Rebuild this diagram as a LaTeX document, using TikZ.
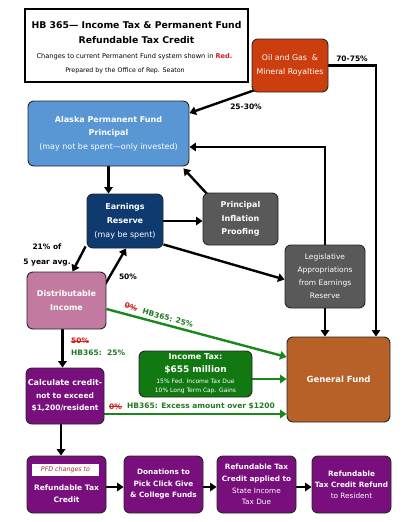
\documentclass[tikz,border=0pt]{standalone}
\usepackage{fontspec}
\setmainfont{DejaVu Sans}
\usetikzlibrary{arrows.meta}
\pgfdeclarelayer{back}
\pgfdeclarelayer{bg}
\pgfsetlayers{back,bg,main}
\newcommand\fsz[2]{\fontsize{#1}{#2}\selectfont}
\newcommand\strk[1]{\leavevmode\setbox0=\hbox{#1}\rlap{\raisebox{0.32em}{\rule{\wd0}{0.7pt}}}\box0}
\definecolor{oilc}{RGB}{205,62,15}
\definecolor{apfc}{RGB}{88,150,212}
\definecolor{erc}{RGB}{14,58,112}
\definecolor{grayc}{RGB}{89,89,89}
\definecolor{dic}{RGB}{194,122,160}
\definecolor{gfc}{RGB}{183,96,40}
\definecolor{itc}{RGB}{18,120,18}
\definecolor{purc}{RGB}{120,15,125}
\definecolor{garrc}{RGB}{25,135,25}
\definecolor{gtxt}{RGB}{35,120,35}
\definecolor{rtxt}{RGB}{210,30,30}
\definecolor{pfdc}{RGB}{160,40,40}
\begin{document}
\begin{tikzpicture}[x=1pt,y=-1pt,
  box/.style={draw=black!85, line width=0.9pt, rounded corners=6pt, text=white, align=center, inner sep=0pt},
  arr/.style={draw=black, line width=2.4pt, -{Triangle[length=6.5pt,width=8.5pt]}},
  garr/.style={arr, draw=garrc},
  lbl/.style={font=\fsz{7.5}{9}\bfseries, inner sep=0pt},
  glbl/.style={lbl, text=gtxt},
  rlbl/.style={lbl, text=rtxt}]
\useasboundingbox (0,0) rectangle (403,522);
\begin{pgfonlayer}{back}
\fill[white] (0,0) rectangle (403,522);
\end{pgfonlayer}

% title
\node[draw=black, line width=1.1pt, minimum width=223pt, minimum height=73pt, inner sep=0pt] (title) at (136.5,45.5) {};
\node[font=\fsz{9.3}{11}\bfseries, inner sep=0pt] (t1) at (136.5,25) {HB 365— Income Tax \& Permanent Fund};
\node[font=\fsz{9.3}{11}\bfseries, inner sep=0pt] (t2) at (136.5,40) {Refundable Tax Credit};
\node[font=\fsz{6.6}{7}, inner sep=0pt] (t3) at (134.5,57) {Changes to current Permanent Fund system shown in \textcolor{rtxt}{\bfseries Red.}};
\node[font=\fsz{6.3}{7}, inner sep=0pt] (t4) at (125,71) {Prepared by the Office of Rep. Seaton};

% boxes
\node[box, fill=oilc, minimum width=76pt, minimum height=53pt, font=\fsz{7.8}{14}] (oil) at (290,65.5) {Oil and Gas\ \ \&\\Mineral Royalties};
\node[box, fill=apfc, minimum width=161pt, minimum height=65pt, font=\fsz{8}{13.5}] (apf) at (108.5,133.5) {\textbf{Alaska Permanent Fund}\\\textbf{Principal}\\(may not be spent—only invested)};
\node[box, fill=erc, minimum width=76pt, minimum height=54pt, font=\fsz{8}{14}] (er) at (125,221) {\textbf{Earnings}\\\textbf{Reserve}\\(may be spent)};
\node[box, fill=grayc, minimum width=75pt, minimum height=52pt, font=\fsz{8}{13.5}\bfseries] (pip) at (240.5,219) {Principal\\Inflation\\Proofing};
\node[box, fill=grayc, minimum width=80pt, minimum height=63pt, font=\fsz{7.5}{13}] (leg) at (325,276.5) {Legislative\\Appropriations\\from Earnings\\Reserve};
\node[box, fill=dic, minimum width=79pt, minimum height=57pt, font=\fsz{8}{14}\bfseries] (di) at (66.5,300.5) {Distributable\\Income};
\node[box, fill=gfc, minimum width=103pt, minimum height=85pt, font=\fsz{8.5}{10}\bfseries] (gf) at (338.5,379.5) {General Fund};
\node[box, fill=itc, minimum width=113pt, minimum height=46pt] (it) at (195.5,374) {};
\node[font=\fsz{8}{9}\bfseries, text=white, inner sep=0pt] (it1) at (195.5,357) {Income Tax:};
\node[font=\fsz{9}{10}\bfseries, text=white, inner sep=0pt] (it2) at (195.5,369.5) {\$655 million};
\node[font=\fsz{6}{7}, text=white, inner sep=0pt] (it3) at (195.5,381) {15\% Fed. Income Tax Due};
\node[font=\fsz{6}{7}, text=white, inner sep=0pt] (it4) at (195.5,391) {10\% Long Term Cap. Gains};
\node[box, fill=purc, minimum width=78pt, minimum height=56pt, font=\fsz{7.5}{12.5}\bfseries] (calc) at (65,396) {{\fsz{8}{12.5}\bfseries Calculate credit-}\\not to exceed\\\$1,200/resident};

\node[box, fill=purc, minimum width=79pt, minimum height=57pt] (b1) at (66.5,484.5) {};
\node[fill=white, minimum width=67pt, minimum height=12pt, inner sep=0pt, font=\fsz{6.3}{7}\itshape, text=pfdc] (pfd) at (65.5,470) {PFD changes to};
\node[font=\fsz{7.5}{11.5}\bfseries, text=white, align=center, inner sep=0pt] (b1t) at (66.5,493.5) {Refundable Tax\\Credit};
\node[box, fill=purc, minimum width=79pt, minimum height=57pt, font=\fsz{7.3}{11.5}\bfseries] (b2) at (163.5,484.5) {Donations to\\Pick Click Give\\\& College Funds};
\node[box, fill=purc, minimum width=79pt, minimum height=57pt, font=\fsz{7.3}{11.7}] (b3) at (256.5,484.5) {\textbf{Refundable Tax}\\\textbf{Credit applied to}\\State Income\\Tax Due};
\node[box, fill=purc, minimum width=79pt, minimum height=57pt, font=\fsz{7.3}{11}] (b4) at (351.5,484.5) {\textbf{Refundable}\\\textbf{Tax Credit Refund}\\to Resident};

% connectors
\begin{pgfonlayer}{bg}
\draw[arr] ([xshift=5pt,yshift=3pt]oil.south west) -- ([yshift=20.5pt]apf.east);
\draw[arr] (oil.east) -| ([xshift=37.5pt]gf.north);
\draw[arr] (leg.north) |- ([yshift=-13.5pt]apf.east);
\draw[arr] (apf.south) -- (apf.south |- er.north);
\draw[arr] (er.east) -- (er.east -| pip.west);
\draw[arr] ([xshift=6pt,yshift=-3pt]pip.north west) -- ([xshift=-6pt,yshift=-2pt]apf.south east);
\draw[arr] ([yshift=4pt]er.south east) -- ([yshift=-3pt]leg.west);
\draw[arr] (leg.south) -- (leg.south |- gf.north);
\draw[arr] ([xshift=-1pt,yshift=2pt]er.south west) -- ([xshift=6pt]di.north);
\draw[arr] ([yshift=-14pt,xshift=-2pt]di.north east) -- ([xshift=1pt]er.south);
\draw[arr] ([xshift=-4pt]di.south) -- ([xshift=-4pt]di.south |- calc.north);
\draw[garr] ([yshift=-8.5pt]di.east) -- ([yshift=22.5pt]gf.west);
\draw[garr] ([yshift=-5pt]it.east) -- ([yshift=-5pt]it.east -| gf.west);
\draw[garr] ([yshift=-18pt]calc.east) -- ([yshift=-18pt]calc.east -| gf.west);
\draw[arr] ([xshift=-4pt]calc.south) -- ([xshift=-4pt]calc.south |- b1.north);
\draw[arr] ([yshift=-2.5pt]b1.east) -- ([yshift=-2.5pt]b1.east -| b2.west);
\draw[arr] ([yshift=-2.5pt]b2.east) -- ([yshift=-2.5pt]b2.east -| b3.west);
\draw[arr] ([yshift=-2.5pt]b3.east) -- ([yshift=-2.5pt]b3.east -| b4.west);
\end{pgfonlayer}

% labels
\node[lbl] (l2530) at (246,107) {25-30\%};
\node[lbl] (l7075) at (352,59) {70-75\%};
\node[lbl] (l21) at (47,247) {21\% of};
\node[lbl] (l5y) at (47,263) {5 year avg.};
\node[lbl] (l50) at (128,277) {50\%};
\node[rlbl, rotate=-15] (r0a) at (131,307) {\strk{0\%}};
\node[glbl, rotate=-15] (g25a) at (168,318) {HB365: 25\%};
\node[rlbl, anchor=west] (r50) at (71,341) {\strk{50\%}};
\node[glbl, anchor=west] (g25b) at (71,353) {HB365:\ \ 25\%};
\node[rlbl, anchor=west] (r0b) at (109,406.5) {\strk{0\%}};
\node[glbl, anchor=west] (gex) at (127,406.5) {HB365: Excess amount over \$1200};
\end{tikzpicture}
\end{document}
